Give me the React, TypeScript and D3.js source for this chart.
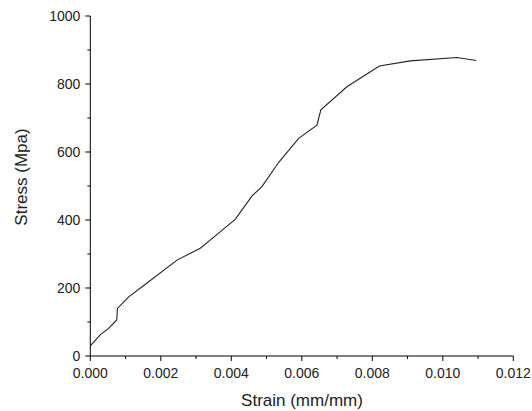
import React from "react";
import * as d3 from "d3";

const strain = [0, 0.00028, 0.00052, 0.00075, 0.00077, 0.00109, 0.0016, 0.00246, 0.00312, 0.0034, 0.00411, 0.00459, 0.00487, 0.00534, 0.00591, 0.00643, 0.00654, 0.00728, 0.0082, 0.00908, 0.0104, 0.01095];
const stress = [30, 62, 81, 106, 140, 174, 214, 282, 317, 341, 402, 471, 498, 569, 640, 679, 724, 792, 853, 868, 878, 869];
const xTicks = [0, 0.002, 0.004, 0.006, 0.008, 0.01, 0.012];
const xMinor = [0.001, 0.003, 0.005, 0.007, 0.009, 0.011];
const yTicks = [0, 200, 400, 600, 800, 1000];
const yMinor = [100, 300, 500, 700, 900];

export default function App() {
  const W = 532, H = 411;
  const x = d3.scaleLinear().domain([0, 0.012]).range([90.3, 513.3]);
  const y = d3.scaleLinear().domain([0, 1000]).range([356, 16]);
  const line = d3.line<number>().x((_, i) => x(strain[i])).y((d) => y(d));
  const font = "'Liberation Sans', Arial, sans-serif";
  return (
    <svg width={W} height={H} style={{ position: "absolute", left: 0, top: 0, background: "#fff" }} fontFamily={font}>
      <path d={line(stress) || ""} fill="none" stroke="#222" strokeWidth={1.1} />
      <line x1={x(0)} x2={x(0.012)} y1={y(0)} y2={y(0)} stroke="#000" strokeWidth={1} />
      <line x1={x(0)} x2={x(0)} y1={y(0)} y2={y(1000)} stroke="#000" strokeWidth={1} />
      {xTicks.map((t) => (
        <g key={"xt" + t}>
          <line x1={x(t)} x2={x(t)} y1={y(0)} y2={y(0) + 5} stroke="#000" />
          <text x={x(t)} y={y(0) + 22} textAnchor="middle" fontSize={14} fill="#222">{t.toFixed(3)}</text>
        </g>
      ))}
      {xMinor.map((t) => (
        <line key={"xm" + t} x1={x(t)} x2={x(t)} y1={y(0)} y2={y(0) + 3} stroke="#000" />
      ))}
      {yTicks.map((t) => (
        <g key={"yt" + t}>
          <line x1={x(0) - 5} x2={x(0)} y1={y(t)} y2={y(t)} stroke="#000" />
          <text x={x(0) - 10} y={y(t) + 5} textAnchor="end" fontSize={14} fill="#222">{t}</text>
        </g>
      ))}
      {yMinor.map((t) => (
        <line key={"ym" + t} x1={x(0) - 3} x2={x(0)} y1={y(t)} y2={y(t)} stroke="#000" />
      ))}
      <text x={302} y={406} textAnchor="middle" fontSize={17} fill="#222">Strain (mm/mm)</text>
      <text transform="translate(26.5,177) rotate(-90)" textAnchor="middle" fontSize={17} fill="#222">Stress (Mpa)</text>
    </svg>
  );
}
